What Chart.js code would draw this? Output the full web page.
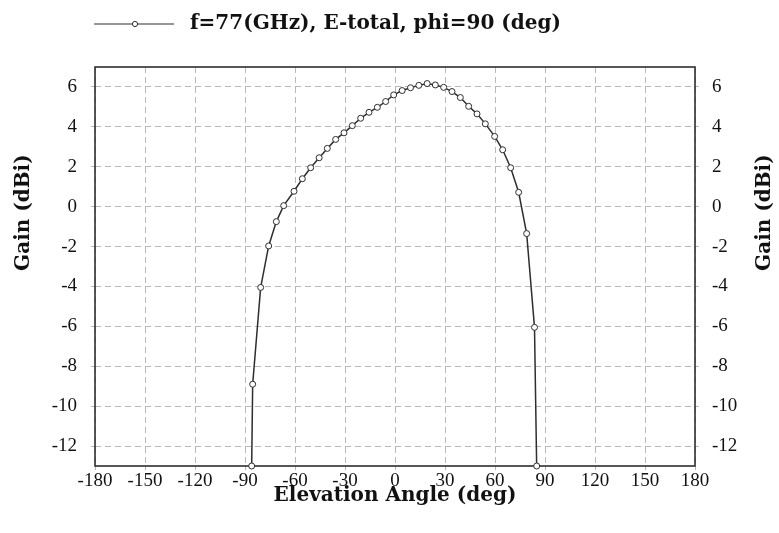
<!DOCTYPE html>
<html>
<head>
<meta charset="utf-8">
<title>Gain vs Elevation</title>
<script src="https://cdn.jsdelivr.net/npm/chart.js@4.4.1/dist/chart.umd.min.js"></script>
<style>
  html, body { margin: 0; padding: 0; background: #fff; }
  #wrap { width: 779px; height: 533px; }
</style>
</head>
<body>
<div id="wrap"><canvas id="gainChart" width="779" height="533"></canvas></div>
<script>
// ========== 数据 ==========
const seriesLabel = "f=77(GHz), E-total, phi=90 (deg)";
const xTitle = "Elevation Angle (deg)";
const yTitle = "Gain (dBi)";

const angles = [-86, -85.4, -80.6, -75.8, -71.2, -66.8, -60.6, -55.6, -50.6, -45.5,
  -40.6, -35.6, -30.6, -25.6, -20.6, -15.6, -10.6, -5.6, -0.8, 4.3,
  9.3, 14.3, 19.3, 24.2, 29.2, 34.2, 39.2, 44.2, 49.2, 54.2,
  59.8, 64.6, 69.4, 74.2, 79, 83.7, 85];
const gains = [-13, -8.9, -4.05, -1.97, -0.75, 0.05, 0.77, 1.4, 1.95, 2.45,
  2.92, 3.37, 3.7, 4.06, 4.43, 4.73, 4.98, 5.27, 5.6, 5.82,
  5.96, 6.08, 6.17, 6.1, 5.98, 5.77, 5.47, 5.03, 4.65, 4.15,
  3.52, 2.85, 1.95, 0.72, -1.35, -6.05, -13];

const xTicks = [-180, -150, -120, -90, -60, -30, 0, 30, 60, 90, 120, 150, 180];
const yTicks = [-12, -10, -8, -6, -4, -2, 0, 2, 4, 6];
const xRange = [-180, 180];
const yRange = [-13, 7];

const tickFont = { family: "Liberation Serif", size: 19 };
const titleFont = "bold 20px 'DejaVu Serif'";
const gridGray = "#b8b8b8";
const ink = "#2e2e2e";

// ========== 边框、图例、坐标轴标题 ==========
const framePlugin = {
  id: "frame",
  beforeDatasetsDraw(chart) {
    const { ctx, chartArea: a } = chart;
    ctx.save();
    ctx.strokeStyle = ink;
    ctx.lineWidth = 1.6;
    ctx.strokeRect(a.left, a.top, a.right - a.left, a.bottom - a.top);
    ctx.restore();
  },
  afterDraw(chart) {
    const { ctx, chartArea: a } = chart;
    const ds = chart.data.datasets[0];
    ctx.save();
    // 图例：线段 + 小圆点
    const ly = 24, lx = a.left - 1;
    ctx.strokeStyle = ink;
    ctx.lineWidth = 1.2;
    ctx.beginPath();
    ctx.moveTo(lx, ly);
    ctx.lineTo(lx + 80, ly);
    ctx.stroke();
    ctx.beginPath();
    ctx.arc(lx + 41, ly, 2.6, 0, Math.PI * 2);
    ctx.fillStyle = "#fff";
    ctx.fill();
    ctx.lineWidth = 1;
    ctx.stroke();
    ctx.fillStyle = "#111";
    ctx.font = titleFont;
    ctx.textAlign = "left";
    ctx.textBaseline = "middle";
    ctx.fillText(ds.label, lx + 96, ly);

    // X 轴标题
    ctx.textAlign = "center";
    ctx.fillText(xTitle, (a.left + a.right) / 2, a.bottom + 30);

    // 左右 Y 轴标题
    const ty = a.top + (a.bottom - a.top) * 0.365;
    [24, chart.width - 14].forEach(tx => {
      ctx.save();
      ctx.translate(tx, ty);
      ctx.rotate(-Math.PI / 2);
      ctx.fillText(yTitle, 0, 0);
      ctx.restore();
    });
    ctx.restore();
  }
};

const gridOpts = {
  color: gridGray,
  lineWidth: 1,
  tickColor: gridGray,
  tickLength: 4,
  tickBorderDash: [4, 3]
};

new Chart(document.getElementById("gainChart"), {
  type: "line",
  data: {
    datasets: [{
      label: seriesLabel,
      data: angles.map((a, i) => ({ x: a, y: gains[i] })),
      borderColor: ink,
      borderWidth: 1.5,
      tension: 0,
      pointRadius: 3,
      pointBackgroundColor: "#fff",
      pointBorderColor: ink,
      pointBorderWidth: 1,
      clip: false
    }]
  },
  options: {
    responsive: false,
    animation: false,
    events: [],
    layout: { padding: { top: 67, left: 0, right: 0, bottom: 0 } },
    plugins: { legend: { display: false }, tooltip: { enabled: false } },
    scales: {
      x: {
        type: "linear",
        min: xRange[0], max: xRange[1],
        afterFit: s => { s.height = 67; },
        afterBuildTicks: s => { s.ticks = xTicks.map(v => ({ value: v })); },
        grid: gridOpts,
        border: { display: false, dash: [6, 4] },
        ticks: { color: "#111", font: tickFont, padding: 0, maxRotation: 0, autoSkip: false }
      },
      y: {
        type: "linear",
        position: "left",
        min: yRange[0], max: yRange[1],
        afterFit: s => { s.width = 95; },
        afterBuildTicks: s => { s.ticks = yTicks.map(v => ({ value: v })); },
        grid: gridOpts,
        border: { display: false, dash: [6, 4] },
        ticks: { color: "#111", font: tickFont, padding: 14 }
      },
      y2: {
        type: "linear",
        position: "right",
        min: yRange[0], max: yRange[1],
        afterFit: s => { s.width = 84; },
        afterBuildTicks: s => { s.ticks = yTicks.map(v => ({ value: v })); },
        grid: { ...gridOpts, drawOnChartArea: false },
        border: { display: false, dash: [6, 4] },
        ticks: { color: "#111", font: tickFont, padding: 13 }
      }
    }
  },
  plugins: [framePlugin]
});
</script>
</body>
</html>
